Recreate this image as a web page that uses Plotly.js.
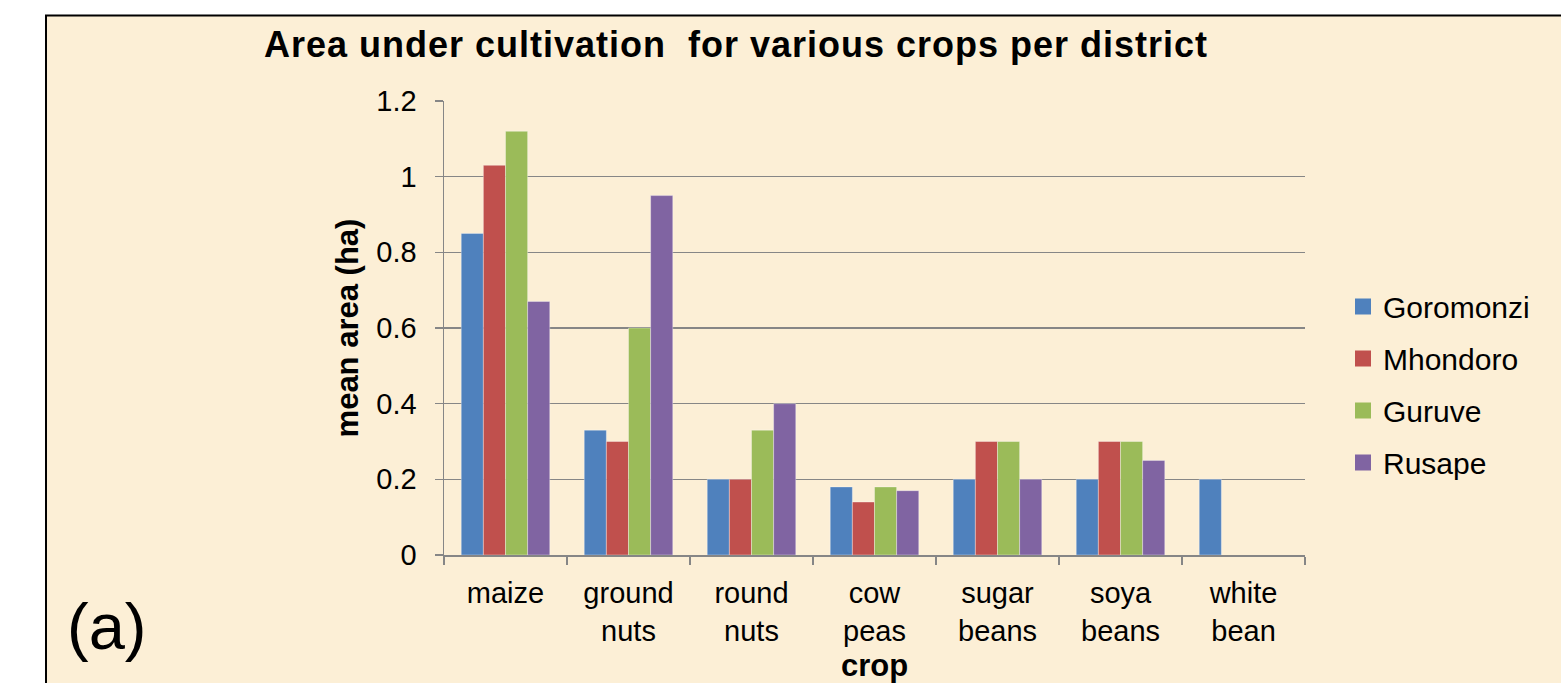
<!DOCTYPE html>
<html>
<head>
<meta charset="utf-8">
<script src="https://cdn.plot.ly/plotly-3.0.1.min.js"></script>
<style>
html, body { margin: 0; padding: 0; background: #ffffff; }
#chart { width: 1561px; height: 683px; }
.gtitle { letter-spacing: 1px; }
</style>
</head>
<body>
<div id="chart"></div>
<script>
// ---- data ----
const crops = ['maize', 'ground<br>nuts', 'round<br>nuts', 'cow<br>peas', 'sugar<br>beans', 'soya<br>beans', 'white<br>bean'];
const goromonzi = [0.85, 0.33, 0.20, 0.18, 0.20, 0.20, 0.20];
const mhondoro  = [1.03, 0.30, 0.20, 0.14, 0.30, 0.30, null];
const guruve    = [1.12, 0.60, 0.33, 0.18, 0.30, 0.30, null];
const rusape    = [0.67, 0.95, 0.40, 0.17, 0.20, 0.25, null];
const seriesNames = ['Goromonzi', 'Mhondoro', 'Guruve', 'Rusape'];
const yTicks = [0, 0.2, 0.4, 0.6, 0.8, 1, 1.2];

const colors = ['#4F81BD', '#C0504D', '#9BBB59', '#8064A2'];
const seriesValues = [goromonzi, mhondoro, guruve, rusape];
const FONT = '"Liberation Sans", Arial, sans-serif';

const barTraces = seriesValues.map((vals, i) => ({
  type: 'bar',
  name: seriesNames[i],
  x: crops,
  y: vals,
  legendgroup: 'g' + i,
  showlegend: false,
  marker: { color: colors[i], line: { color: 'rgba(255,255,255,0.35)', width: 1 } },
  hoverinfo: 'skip'
}));

// legend keys (square swatches), no visible data
const legendTraces = seriesValues.map((vals, i) => ({
  type: 'scatter',
  mode: 'markers',
  name: seriesNames[i],
  x: crops,
  y: crops.map(() => null),
  legendgroup: 'g' + i,
  showlegend: true,
  marker: { symbol: 'square', size: 16, color: colors[i] },
  hoverinfo: 'skip'
}));

// plot area in pixels: x 444..1305, y 101..555
const L = 444, R = 1305, T = 101, B = 555;
const W = R - L, H = B - T;
const px = v => (v - L) / W;
const py = v => (B - v) / H;

const layout = {
  width: 1561,
  height: 683,
  margin: { l: L, r: 1561 - R, t: T, b: 683 - B, pad: 0 },
  paper_bgcolor: '#ffffff',
  plot_bgcolor: 'rgba(0,0,0,0)',
  font: { family: FONT, size: 29, color: '#000000' },
  barmode: 'group',
  bargap: 0.28,
  bargroupgap: 0,
  title: {
    text: '<b>Area under cultivation  for various crops per district</b>',
    font: { family: FONT, size: 36, color: '#000000' },
    xref: 'container', yref: 'container',
    x: 736 / 1561, xanchor: 'center',
    y: (683 - 44) / 683, yanchor: 'middle'
  },
  xaxis: {
    type: 'category',
    showline: true, linecolor: '#868686', linewidth: 1.5,
    ticks: 'outside', tickson: 'boundaries', ticklen: 8, tickcolor: '#868686', tickwidth: 1.5,
    showgrid: false,
    ticklabelstandoff: 12,
    tickfont: { family: FONT, size: 29, color: '#000000' },
    title: { text: '<b>crop</b>', font: { family: FONT, size: 31, color: '#000000' }, standoff: 9 }
  },
  yaxis: {
    range: [0, 1.2],
    tickvals: yTicks,
    ticktext: yTicks.map(v => String(v)),
    showline: true, linecolor: '#868686', linewidth: 1.5,
    ticks: 'outside', ticklen: 8, tickcolor: '#868686', tickwidth: 1.5,
    showgrid: true, gridcolor: '#868686', gridwidth: 1.3,
    zeroline: false,
    ticklabelstandoff: 12,
    tickfont: { family: FONT, size: 29, color: '#000000' },
    title: { text: '<b>mean area (ha)</b>', font: { family: FONT, size: 31, color: '#000000' }, standoff: 8 }
  },
  legend: {
    x: px(1343), xanchor: 'left',
    y: py(384.5), yanchor: 'middle',
    xref: 'paper', yref: 'paper',
    bgcolor: 'rgba(0,0,0,0)',
    font: { family: FONT, size: 30, color: '#000000' },
    tracegroupgap: 10,
    traceorder: 'grouped'
  },
  shapes: [
    {
      type: 'rect', xref: 'paper', yref: 'paper', layer: 'below',
      x0: px(46), x1: px(1620), y0: py(15.5), y1: py(740),
      fillcolor: '#FCEFD6',
      line: { color: '#000000', width: 2 }
    }
  ],
  annotations: [
    {
      text: '(a)', xref: 'paper', yref: 'paper',
      x: px(106), y: py(626), xanchor: 'center', yanchor: 'middle',
      showarrow: false,
      font: { family: FONT, size: 65, color: '#000000' }
    }
  ]
};

Plotly.newPlot('chart', barTraces.concat(legendTraces), layout, { displayModeBar: false, staticPlot: true });
</script>
</body>
</html>
